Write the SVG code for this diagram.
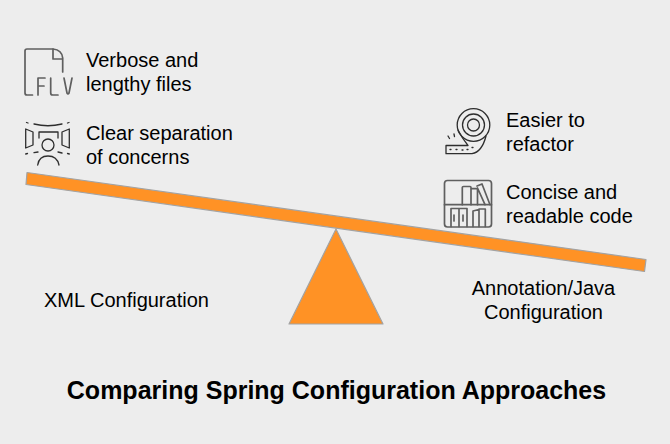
<svg xmlns="http://www.w3.org/2000/svg" width="670" height="444" viewBox="0 0 670 444">
<style>
text{font-family:"Liberation Sans",Arial,sans-serif;font-size:20px;fill:#000}
.shape{fill:#ff9225;stroke:#a3a3a3;stroke-width:1.2;stroke-linejoin:round}
.g{fill:none;stroke:#5f5f5f;stroke-width:1.7;stroke-linecap:round;stroke-linejoin:round}
.k{fill:none;stroke:#2e2e2e;stroke-width:1.3;stroke-linecap:round;stroke-linejoin:round}
</style>
<rect width="670" height="444" fill="#ededed"/>
<g id="fulcrum"><polygon class="shape" points="336,229 383,324 289,324"/></g>
<g id="beam"><polygon class="shape" points="27,172.500 646,259.500 644.500,271.500 26,184.500"/></g>
<g id="icon-flv">
<path class="g" d="M53,49H27Q25,49 25,51V93Q25,95 27,95H32.500"/>
<path class="g" d="M53,49Q62,50 62.700,58V72M53,49V59H62.700"/>
<path class="g" d="M38,95V78H45M38,86H44M50.700,78V93Q50.700,95 52.700,95H58M64,78L67,93Q68,95 69,93L72,78" stroke-width="1.4"/>
</g>
<g id="icon-separation">
<path class="k" d="M34,124Q48,127.500 62,124M26.500,122.500L28,123M67.500,123L69,122.500"/>
<path class="k" d="M25.700,129L33,132V145L25.700,148ZM69.300,129L62,132V145L69.300,148Z" stroke-width="1.5"/>
<path class="k" d="M39,138V132H58V138"/>
<circle class="k" cx="48" cy="145" r="6"/>
<path class="k" d="M37.700,165Q39,156 48,156Q57,156 59,165"/>
<path class="k" d="M25.700,154L27.500,153.500M34,152.700L38,152M58,152L62,153M67.500,153.500L69.300,154"/>
</g>
<g id="icon-tape">
<circle class="k" cx="473.500" cy="125" r="6"/>
<circle class="k" cx="473.500" cy="125" r="11"/>
<circle class="k" cx="473.500" cy="125" r="16.300"/>
<path class="k" d="M446,145.500H468Q462,138 458,130M446,145.500V153.700H472Q482,152 486,136"/>
<path class="k" d="M450,149.500H451M456,149.500H457M462,150H463M467,149.500H468M472,147.500H473M448,136L449.500,138.500M454,134L454.500,136.500"/>
</g>
<g id="icon-bookshelf">
<rect class="g" x="444.500" y="180.500" width="47" height="46.500" rx="3"/>
<path class="g" d="M444.500,204.700H491.500"/>
<path class="g" d="M462.300,204.700V187.500Q462.300,186.500 463.500,186.500H470Q471,186.500 471,187.500V204.700M471,188.700H477.500V204.700M477,186L482,184L490,204.700M477.500,188L485,204.700" stroke-width="1.3"/>
<path class="g" d="M451,226.500V208.500H467V226.500M459,208.500V226.500M454,215V221M463,215V221M473,226.500V211L479,209.500V226.500M479,209H485.300V226.500" stroke-width="1.3"/>
</g>
<g id="left-item-1"><text x="86" y="67">Verbose and</text><text x="86" y="91">lengthy files</text></g>
<g id="left-item-2"><text x="86" y="140">Clear separation</text><text x="86" y="164">of concerns</text></g>
<g id="right-item-1"><text x="506" y="127">Easier to</text><text x="506" y="151">refactor</text></g>
<g id="right-item-2"><text x="506" y="199">Concise and</text><text x="506" y="223">readable code</text></g>
<g id="label-xml"><text x="44" y="307">XML Configuration</text></g>
<g id="label-annotation"><text x="543.500" y="295" text-anchor="middle">Annotation/Java</text><text x="543.500" y="319" text-anchor="middle">Configuration</text></g>
<g id="title"><text x="336.500" y="399" text-anchor="middle" style="font-size:25px;font-weight:bold">Comparing Spring Configuration Approaches</text></g>
<g id="connectors"></g>
</svg>
